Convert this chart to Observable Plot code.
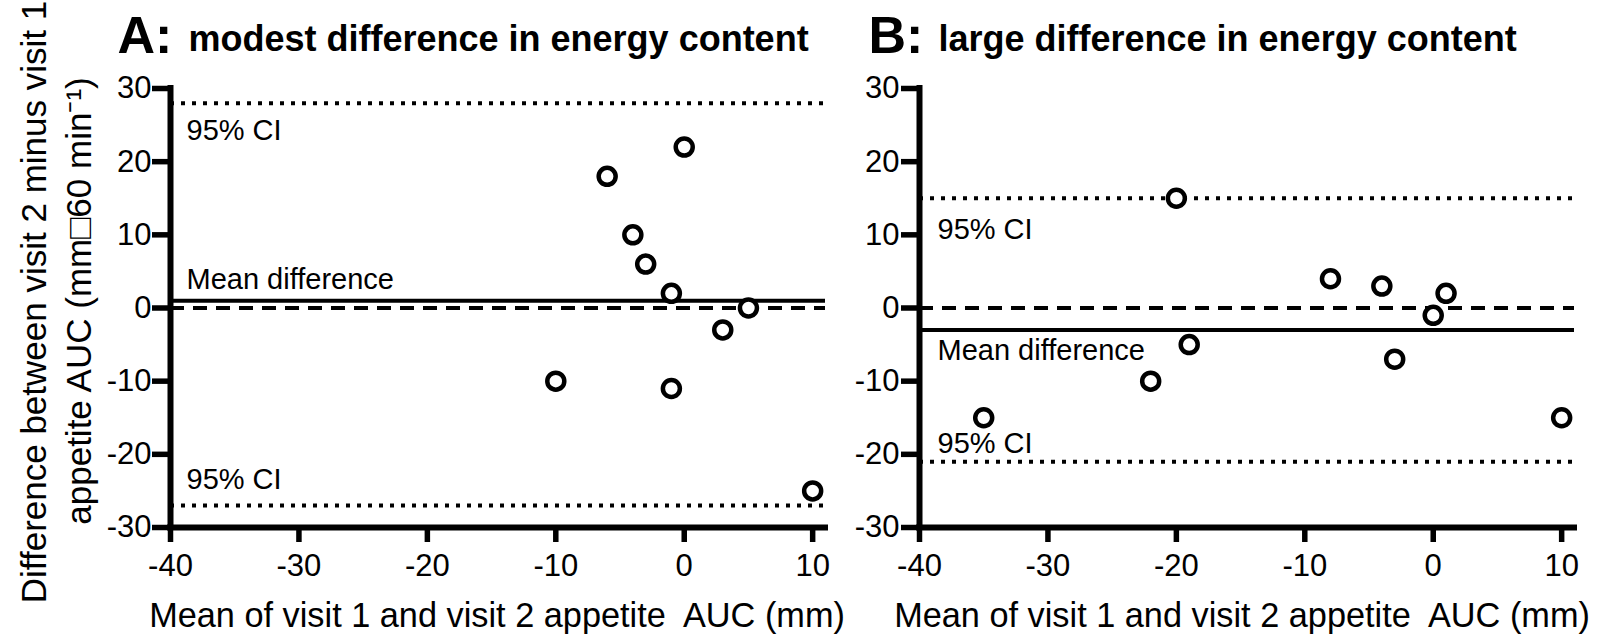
<!DOCTYPE html>
<html>
<head>
<meta charset="utf-8">
<script src="https://cdn.jsdelivr.net/npm/d3@7"></script>
<script src="https://cdn.jsdelivr.net/npm/@observablehq/plot@0.6"></script>
<style>
  html, body { margin: 0; padding: 0; background: #fff; overflow: hidden; }
  #chart { display: flex; flex-direction: row; width: 1597px; height: 635px; }
  #chart svg { display: block; }
</style>
</head>
<body>
<div id="chart"></div>
<script>
// ---- data ----
const xTicks = [-40, -30, -20, -10, 0, 10];
const yTicks = [-30, -20, -10, 0, 10, 20, 30];

const panelATitleLetter = "A:";
const panelATitle = "modest difference in energy content";
const panelAMeanX = [0, -6, -4, -3, -1, 5, 3, -10, -1, 10];
const panelADiff  = [22, 18, 10, 6, 2, 0, -3, -10, -11, -25];
const panelAMeanDiff = 1;
const panelACI = [28, -27];

const panelBTitleLetter = "B:";
const panelBTitle = "large difference in energy content";
const panelBMeanX = [-20, -8, -4, 1, 0, -19, -3, -22, -35, 10];
const panelBDiff  = [15, 4, 3, 2, -1, -5, -7, -10, -15, -15];
const panelBMeanDiff = -3;
const panelBCI = [15, -21];

const ciLabel = "95% CI";
const meanLabel = "Mean difference";
const xLabel = "Mean of visit 1 and visit 2 appetite  AUC (mm)";
const yLabel1 = "Difference between visit 2 minus visit 1";
const yLabel2 = "appetite AUC (mm\u25A160 min\u207B\u00B9)";

const FONT = '"Liberation Sans", Arial, Helvetica, sans-serif';

function panel(cfg) {
  const pts = cfg.mx.map((x, i) => ({x, y: cfg.diff[i]}));
  const x0 = xTicks[0], y0 = yTicks[0];
  const marks = [
    // reference lines
    Plot.ruleY(cfg.ci, {stroke: "black", strokeWidth: 4, strokeDasharray: "4 7"}),
    Plot.ruleY([0], {stroke: "black", strokeWidth: 4, strokeDasharray: "14 9"}),
    Plot.ruleY([cfg.mean], {stroke: "black", strokeWidth: 4}),
    // axis lines
    Plot.ruleX([x0], {stroke: "black", strokeWidth: 6, strokeLinecap: "square"}),
    Plot.ruleY([y0], {stroke: "black", strokeWidth: 6, strokeLinecap: "square"}),
    // ticks
    Plot.ruleX(xTicks, {x: d => d, y1: () => y0, y2: () => y0, insetBottom: -15,
      stroke: "black", strokeWidth: 5.5}),
    Plot.ruleY(yTicks, {y: d => d, x1: () => x0, x2: () => x0, insetLeft: -18,
      stroke: "black", strokeWidth: 5.5}),
    // tick labels
    Plot.text(xTicks, {x: d => d, y: () => y0, text: d => String(d), textAnchor: "middle",
      lineAnchor: "top", dy: 26, fontSize: 31}),
    Plot.text(yTicks, {x: () => x0, y: d => d, text: d => String(d), textAnchor: "end",
      lineAnchor: "middle", dx: cfg.yTickDx, fontSize: 31}),
    // points
    Plot.dot(pts, {x: "x", y: "y", r: 8.5, stroke: "black", strokeWidth: 4.5, fill: "white"}),
    // in-plot labels
    Plot.text([{x: x0, y: cfg.ci[0]}], {x: "x", y: "y", text: () => ciLabel, textAnchor: "start",
      lineAnchor: "bottom", dx: cfg.labelDx, dy: cfg.dyUpper, fontSize: 29}),
    Plot.text([{x: x0, y: cfg.mean}], {x: "x", y: "y", text: () => meanLabel, textAnchor: "start",
      lineAnchor: "bottom", dx: cfg.labelDx, dy: cfg.dyMean, fontSize: 29}),
    Plot.text([{x: x0, y: cfg.ci[1]}], {x: "x", y: "y", text: () => ciLabel, textAnchor: "start",
      lineAnchor: "bottom", dx: cfg.labelDx, dy: cfg.dyLower, fontSize: 29}),
    // titles
    Plot.text([cfg.letter], {frameAnchor: "top-left", textAnchor: "start", lineAnchor: "bottom",
      dx: cfg.letterDx, dy: -36, fontSize: 52, fontWeight: "bold"}),
    Plot.text([cfg.title], {frameAnchor: "top-left", textAnchor: "start", lineAnchor: "bottom",
      dx: cfg.titleDx, dy: -38, fontSize: 36, fontWeight: "bold"}),
    // x axis label
    Plot.text([xLabel], {frameAnchor: "bottom", textAnchor: "middle", lineAnchor: "bottom",
      dx: cfg.xLabelDx, dy: 99, fontSize: 34.3})
  ];
  if (cfg.yLabel) {
    marks.push(
      Plot.text([yLabel1], {frameAnchor: "left", rotate: -90, textAnchor: "middle", lineAnchor: "bottom",
        dx: -125, dy: -6, fontSize: 35}),
      Plot.text([yLabel2], {frameAnchor: "left", rotate: -90, textAnchor: "middle", lineAnchor: "bottom",
        dx: -80, dy: -7, fontSize: 35})
    );
  }
  return Plot.plot({
    width: cfg.width,
    height: 635,
    marginLeft: cfg.marginLeft,
    marginRight: cfg.marginRight,
    marginTop: 88,
    marginBottom: 108,
    x: {domain: [-40, 11], axis: null},
    y: {domain: [-30, 30], axis: null},
    style: {fontFamily: FONT, fontSize: "29px", color: "black", background: "white", overflow: "visible"},
    marks
  });
}

const chart = document.getElementById("chart");
chart.appendChild(panel({
  width: 850, marginLeft: 170, marginRight: 25,
  mx: panelAMeanX, diff: panelADiff, mean: panelAMeanDiff, ci: panelACI,
  letter: panelATitleLetter, title: panelATitle, letterDx: -53, titleDx: 18,
  labelDx: 16, dyUpper: 37, dyMean: -12, dyLower: -17, yTickDx: -19, xLabelDx: -1, yLabel: true
}));
chart.appendChild(panel({
  width: 747, marginLeft: 69, marginRight: 23,
  mx: panelBMeanX, diff: panelBDiff, mean: panelBMeanDiff, ci: panelBCI,
  letter: panelBTitleLetter, title: panelBTitle, letterDx: -51, titleDx: 19,
  labelDx: 18, dyUpper: 41, dyMean: 30, dyLower: -9, yTickDx: -20, xLabelDx: -5, yLabel: false
}));
</script>
</body>
</html>
